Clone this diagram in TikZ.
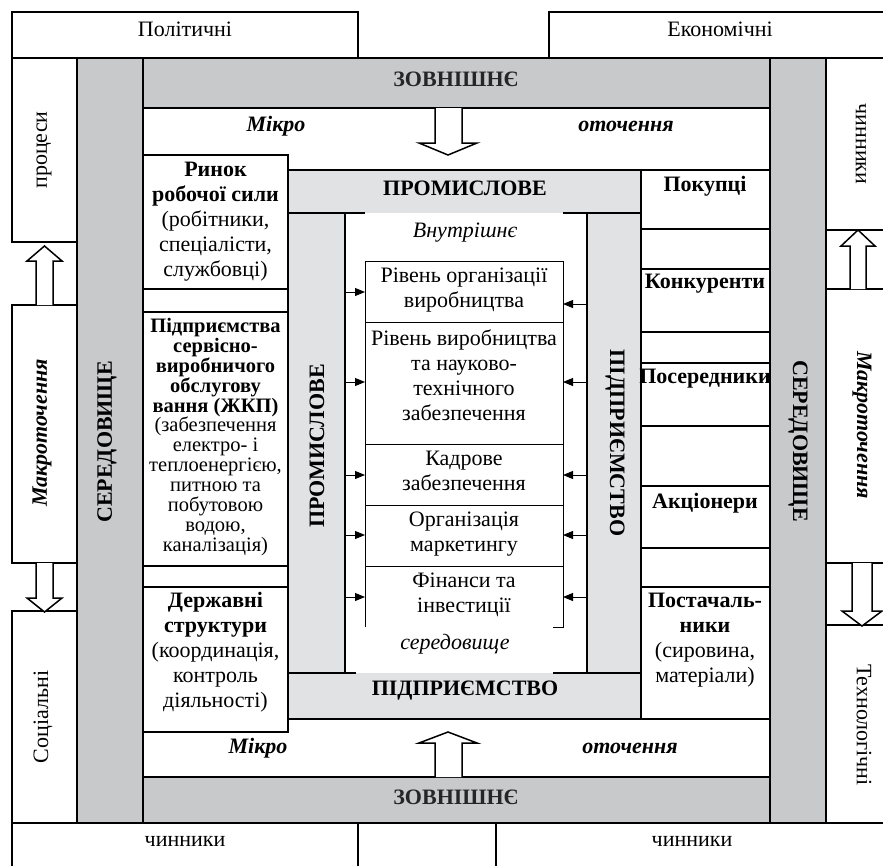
\documentclass[tikz,border=0pt]{standalone}
\usepackage{fontspec}
\setmainfont{Liberation Serif}
\usetikzlibrary{arrows.meta}
\definecolor{dkgray}{HTML}{C8C9CB}
\definecolor{ltgray}{HTML}{E1E2E4}
\newcommand\myfs{\fontsize{22}{25}\selectfont}
\newcommand\myfst{\fontsize{20.5}{19.9}\selectfont}
\begin{document}
\begin{tikzpicture}[x=1pt,y=-1pt,
  ln/.style={line width=1.4pt},
  thn/.style={line width=0.9pt},
  hollow/.style={draw,line width=1.5pt,fill=white,line join=miter},
  txt/.style={font=\myfs,align=center,inner sep=0pt},
  btxt/.style={font=\myfs\bfseries,align=center,inner sep=0pt},
  bitxt/.style={font=\myfs\bfseries\itshape,align=center,inner sep=0pt},
  itxt/.style={font=\myfs\itshape,align=center,inner sep=0pt},
  sarrow/.style={thn,-{Triangle[length=10pt,width=8pt]}}]
\useasboundingbox (0,0) rectangle (883,865);
\fill[white] (0,0) rectangle (883,865);
% top and bottom rows
\draw[ln] (12,12) rectangle (358,58);
\draw[ln] (549,12) rectangle (890,58);
\draw[ln] (12,823) rectangle (358,875);
\draw[ln] (358,823) rectangle (496,875);
\draw[ln] (496,823) rectangle (890,875);
% outer left and right columns
\draw[ln] (12,58) rectangle (77,242);
\draw[ln] (12,305) rectangle (77,563);
\draw[ln] (12,611) rectangle (77,823);
\draw[ln] (826,58) rectangle (890,230);
\draw[ln] (826,289) rectangle (890,563);
\draw[ln] (826,625) rectangle (890,823);
% outer gray ring
\draw[ln,fill=dkgray] (77,58) rectangle (826,823);
\draw[ln,fill=white] (143,108) rectangle (770,777);
\draw[ln] (143,58) -- (143,823);
\draw[ln] (770,58) -- (770,823);
% inner light ring
\draw[ln,fill=ltgray] (288,170) rectangle (641,719);
\fill[white] (345,213) rectangle (587,673);
\draw[ln] (288,213) -- (365,213);
\draw[ln] (563,213) -- (641,213);
\draw[ln] (345,213) -- (345,673);
\draw[ln] (587,213) -- (587,673);
\draw[ln] (288,673) -- (356,673);
\draw[ln] (553,673) -- (641,673);
% left boxes
\draw[ln] (143,155) rectangle (288,289);
\draw[ln] (143,289) rectangle (288,312);
\draw[ln] (143,312) rectangle (288,566);
\draw[ln] (143,566) rectangle (288,587);
\draw[ln] (143,587) rectangle (288,732);
% right boxes
\foreach \a/\b in {170/229,229/269,269/332,332/363,363/426,426/486,486/548,548/587,587/719}
  \draw[ln] (641,\a) rectangle (770,\b);
% center boxes
\draw[thn] (365,261) -- (563,261);
\foreach \yy in {322,444,505,566} \draw[thn] (365,\yy) -- (563,\yy);
\draw[thn] (365,261) -- (365,627);
\draw[thn] (563,261) -- (563,627) -- (553,627);
% hollow arrows
\draw[hollow] (435,108) -- (435,143) -- (419,143) -- (448,155) -- (477,143) -- (462,143) -- (462,108);
\draw[hollow] (435,777) -- (435,743) -- (419,743) -- (448,732) -- (477,743) -- (462,743) -- (462,777);
\draw[hollow] (36,305) -- (36,261) -- (27,261) -- (44.5,246) -- (62,261) -- (53,261) -- (53,305);
\draw[hollow] (36,563) -- (36,598) -- (27,598) -- (44.5,612) -- (62,598) -- (53,598) -- (53,563);
\draw[hollow] (850,289) -- (850,246) -- (841,246) -- (858,230) -- (875,246) -- (866,246) -- (866,289);
\draw[hollow] (852,563) -- (852,611) -- (842,611) -- (862,626) -- (882,611) -- (872,611) -- (872,563);
% coordinates for small arrows
\coordinate (L1) at (345,292); \coordinate (B1) at (365,292);
\coordinate (L2) at (345,382); \coordinate (B2) at (365,382);
\coordinate (L3) at (345,475); \coordinate (B3) at (365,475);
\coordinate (L4) at (345,535); \coordinate (B4) at (365,535);
\coordinate (L5) at (345,597); \coordinate (B5) at (365,597);
\coordinate (R1) at (587,304); \coordinate (C1) at (563,304);
\coordinate (R2) at (587,382); \coordinate (C2) at (563,382);
\coordinate (R3) at (587,475); \coordinate (C3) at (563,475);
\coordinate (R4) at (587,535); \coordinate (C4) at (563,535);
\coordinate (R5) at (587,597); \coordinate (C5) at (563,597);
\foreach \i in {1,...,5} {\draw[sarrow] (L\i) -- (B\i); \draw[sarrow] (R\i) -- (C\i);}
% texts: top/bottom rows
\node[txt] (pol) at (185,29) {Політичні};
\node[txt] (eko) at (720,29) {Економічні};
\node[txt] (chb1) at (185,841) {чинники};
\node[txt] (chb2) at (692,841) {чинники};
% outer columns
\node[txt,rotate=90] (proc) at (44,150) {процеси};
\node[bitxt,rotate=90] (makl) at (42,433) {Макроточення};
\node[txt,rotate=90] (soc) at (43,717) {Соціальні};
\node[txt,rotate=-90] (chr) at (861,144) {чинники};
\node[bitxt,rotate=-90] (makr) at (862,425) {Макроточення};
\node[txt,rotate=-90] (tech) at (864,725) {Технологічні};
% gray ring texts
\node[btxt,rotate=90] (serl) at (107,442) {СЕРЕДОВИЩЕ};
\node[btxt,rotate=-90] (serr) at (798,441) {СЕРЕДОВИЩЕ};
\node[btxt,text=black!85] (zt) at (456,79) {ЗОВНІШНЄ};
\node[btxt,text=black!85] (zb) at (456,797) {ЗОВНІШНЄ};
\node[bitxt] (mt) at (276,126) {Мікро};
\node[bitxt] (ot) at (626,126) {оточення};
\node[bitxt] (mb) at (258,748) {Мікро};
\node[bitxt] (ob) at (630,748) {оточення};
% inner ring texts
\node[btxt] (pt) at (465,188) {ПРОМИСЛОВЕ};
\node[btxt] (pb) at (465,691) {ПІДПРИЄМСТВО};
\node[btxt,rotate=90] (pl) at (317,446) {ПРОМИСЛОВЕ};
\node[btxt,rotate=-90] (pr) at (615,443) {ПІДПРИЄМСТВО};
\node[itxt] (vn) at (465,233) {Внутрішнє};
\node[itxt] (sd) at (455,644) {середовище};
% left boxes texts
\node[txt] (rynok) at (215.5,222) {\textbf{Ринок}\\\textbf{робочої сили}\\(робітники,\\спеціалісти,\\службовці)};
\node[txt,font=\myfst] (zhkp) at (215.5,437) {\textbf{Підприємства}\\\textbf{сервісно-}\\\textbf{виробничого}\\\textbf{обслугову}\\\textbf{вання (ЖКП)}\\(забезпечення\\електро- і\\теплоенергією,\\питною та\\побутовою\\водою,\\каналізація)};
\node[txt] (derzh) at (215.5,652) {\textbf{Державні}\\\textbf{структури}\\(координація,\\контроль\\діяльності)};
% right boxes texts
\node[btxt] (pok) at (705,186) {Покупці};
\node[btxt] (kon) at (705,284) {Конкуренти};
\node[btxt] (pos) at (705,379) {Посередники};
\node[btxt] (akc) at (705,503) {Акціонери};
\node[txt] (post) at (705,640) {\textbf{Постачаль-}\\\textbf{ники}\\(сировина,\\матеріали)};
% center texts
\node[txt] (c1) at (464,290) {Рівень організації\\виробництва};
\node[txt] (c2) at (464,375) {Рівень виробництва\\та науково-\\технічного\\забезпечення};
\node[txt] (c3) at (464,471) {Кадрове\\забезпечення};
\node[txt] (c4) at (464,534) {Організація\\маркетингу};
\node[txt] (c5) at (464,595) {Фінанси та\\інвестиції};
\end{tikzpicture}
\end{document}
